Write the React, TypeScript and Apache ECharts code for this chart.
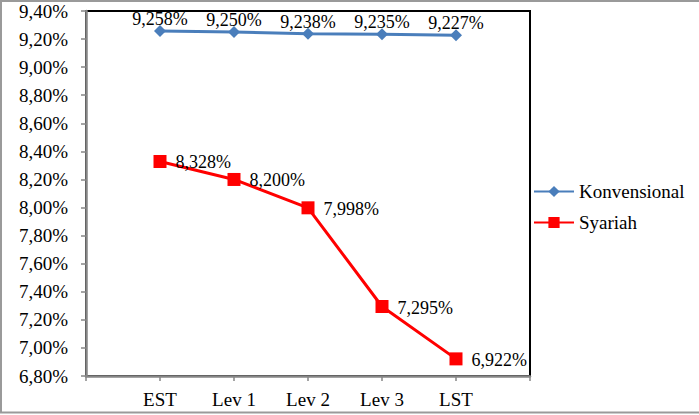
import React, { useEffect, useRef } from "react";
import * as echarts from "echarts";

const categories = ["EST", "Lev 1", "Lev 2", "Lev 3", "LST"];
const konvensional = [9.258, 9.25, 9.238, 9.235, 9.227];
const syariah = [8.328, 8.2, 7.998, 7.295, 6.922];
const yMin = 6.8;
const yMax = 9.4;
const yStep = 0.2;

const FONT = "Liberation Serif";

const fmt = (v: number, d: number) => v.toFixed(d).replace(".", ",") + "%";

export default function App() {
  const ref = useRef<HTMLDivElement>(null);
  useEffect(() => {
    if (!ref.current) return;
    const chart = echarts.init(ref.current, undefined, { renderer: "svg" });
    const axisCats = ["", ...categories, ""];
    const pad = (arr: number[]) => [null, ...arr, null];
    chart.setOption({
      animation: false,
      backgroundColor: "#fff",
      textStyle: { fontFamily: FONT, color: "#000" },
      grid: {
        left: 86,
        right: 169,
        top: 11,
        bottom: 39,
        show: true,
        borderColor: "#000",
        borderWidth: 2,
        backgroundColor: "#fff",
      },
      legend: {
        orient: "vertical",
        left: 533,
        top: 182,
        padding: 0,
        itemWidth: 40,
        itemHeight: 14,
        itemGap: 12,
        textStyle: { fontFamily: FONT, fontSize: 19, color: "#000" },
        data: ["Konvensional", "Syariah"],
      },
      xAxis: {
        type: "category",
        data: axisCats,
        boundaryGap: false,
        axisLine: { lineStyle: { color: "#868686", width: 2.5 } },
        axisTick: { show: true, length: 5, lineStyle: { color: "#868686", width: 1.5 } },
        axisLabel: { fontFamily: FONT, fontSize: 19, color: "#000", margin: 14, interval: 0 },
        splitLine: { show: false },
      },
      yAxis: {
        type: "value",
        min: yMin,
        max: yMax,
        interval: yStep,
        axisLine: { show: true, lineStyle: { color: "#868686", width: 2.5 } },
        axisTick: { show: true, length: 5, lineStyle: { color: "#868686", width: 1.5 } },
        axisLabel: {
          fontFamily: FONT,
          fontSize: 19,
          color: "#000",
          margin: 18,
          formatter: (v: number) => fmt(v, 2),
        },
        splitLine: { show: false },
      },
      series: [
        {
          name: "Konvensional",
          type: "line",
          data: pad(konvensional),
          symbol: "diamond",
          symbolSize: 12,
          lineStyle: { color: "#4A7EBB", width: 3 },
          itemStyle: { color: "#4A7EBB" },
          label: {
            show: true,
            position: "top",
            distance: 0,
            offset: [0, 3],
            fontFamily: FONT,
            fontSize: 18,
            color: "#000",
            formatter: (p: any) => fmt(p.value, 3),
          },
        },
        {
          name: "Syariah",
          type: "line",
          data: pad(syariah),
          symbol: "rect",
          symbolSize: 13,
          lineStyle: { color: "#FF0000", width: 3 },
          itemStyle: { color: "#FF0000" },
          label: {
            show: true,
            position: "right",
            distance: 9,
            offset: [0, 1],
            fontFamily: FONT,
            fontSize: 18,
            color: "#000",
            formatter: (p: any) => fmt(p.value, 3),
          },
        },
      ],
      graphic: [
        { type: "line", shape: { x1: 0, y1: 1, x2: 699, y2: 1 }, style: { stroke: "#9a9a9a", lineWidth: 2 } },
        { type: "line", shape: { x1: 1, y1: 0, x2: 1, y2: 413 }, style: { stroke: "#9a9a9a", lineWidth: 2 } },
        { type: "line", shape: { x1: 0, y1: 412.5, x2: 699, y2: 412.5 }, style: { stroke: "#9a9a9a", lineWidth: 2 } },
      ],
    });
    return () => chart.dispose();
  }, []);
  return (
    <div
      ref={ref}
      style={{ position: "fixed", left: 0, top: 0, width: 699, height: 415, background: "#fff" }}
    />
  );
}
